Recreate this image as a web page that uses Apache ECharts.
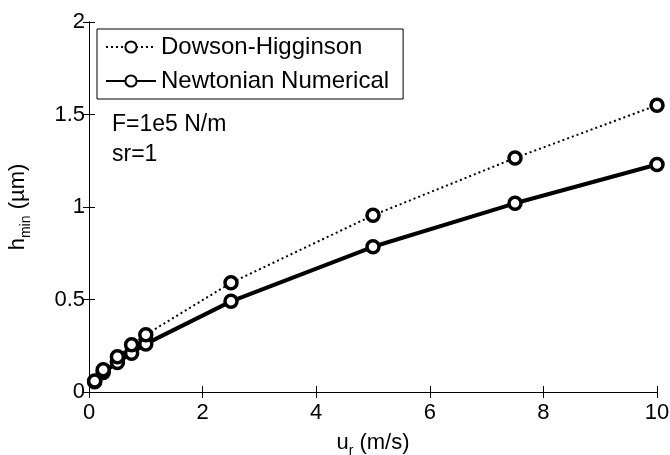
<!DOCTYPE html>
<html>
<head>
<meta charset="utf-8">
<script src="https://cdn.jsdelivr.net/npm/echarts@6/dist/echarts.min.js"></script>
<style>
  html, body { margin: 0; padding: 0; background: #fff; }
  #chart { width: 670px; height: 455px; }
</style>
</head>
<body>
<div id="chart"></div>
<script>
// Rolling speed (m/s)
const speeds = [0.1, 0.25, 0.5, 0.75, 1, 2.5, 5, 7.5, 10];
// Minimum film thickness (µm)
const dowsonHigginson = [0.06, 0.12, 0.19, 0.255, 0.31, 0.59, 0.955, 1.265, 1.55];
const newtonianNumerical = [0.055, 0.105, 0.16, 0.21, 0.26, 0.49, 0.785, 1.02, 1.23];

const seriesNames = ['Dowson-Higginson', 'Newtonian Numerical'];
const xTicks = [0, 2, 4, 6, 8, 10];
const yTicks = [0, 0.5, 1, 1.5, 2];

const font = 'Liberation Sans, Arial, Helvetica, sans-serif';

const pairs = (xs, ys) => xs.map((x, i) => [x, ys[i]]);

const chart = echarts.init(document.getElementById('chart'), null, { renderer: 'canvas' });

const frameAxis = {
  axisLine: { show: true, lineStyle: { color: '#000', width: 1 } },
  axisTick: { show: true, inside: true, length: 6, lineStyle: { color: '#000' } },
  splitLine: { show: false }
};

const subStyle = { fontSize: 14, padding: [16, 0, 0, 0], fontFamily: font, color: '#000' };

chart.setOption({
  animation: false,
  backgroundColor: '#fff',
  textStyle: { fontFamily: font, color: '#000' },
  grid: { left: 89, right: 13, top: 22, bottom: 63, containLabel: false, outerBoundsMode: 'none' },
  legend: {
    data: seriesNames,
    orient: 'vertical',
    left: 97,
    top: 29,
    itemWidth: 50,
    itemHeight: 14,
    itemGap: 10,
    padding: [6, 14, 6, 8],
    borderColor: '#000',
    borderWidth: 1,
    backgroundColor: '#fff',
    textStyle: { fontSize: 24, color: '#000', fontFamily: font }
  },
  xAxis: [
    Object.assign({
      type: 'value', min: xTicks[0], max: xTicks[xTicks.length - 1], interval: 2,
      position: 'bottom',
      name: 'u{sub|r} (m/s)',
      nameLocation: 'middle',
      nameGap: 36,
      nameTextStyle: { fontSize: 22, color: '#000', fontFamily: font, rich: { sub: subStyle } },
      axisLabel: { fontSize: 22, color: '#000', margin: 10, fontFamily: font }
    }, frameAxis),
    Object.assign({
      type: 'value', min: 0, max: 10, interval: 2, position: 'top',
      axisLabel: { show: false }
    }, frameAxis)
  ],
  yAxis: [
    Object.assign({
      type: 'value', min: yTicks[0], max: yTicks[yTicks.length - 1], interval: 0.5,
      position: 'left',
      name: 'h{sub|min} (µm)',
      nameLocation: 'middle',
      nameGap: 56,
      nameRotate: 90,
      nameTextStyle: { fontSize: 22, color: '#000', fontFamily: font, rich: { sub: subStyle } },
      axisLabel: { fontSize: 22, color: '#000', margin: 4, fontFamily: font }
    }, frameAxis),
    Object.assign({
      type: 'value', min: 0, max: 2, interval: 0.5, position: 'right',
      axisLabel: { show: false }
    }, frameAxis)
  ],
  graphic: [
    {
      type: 'text', left: 112, top: 113,
      style: { text: 'F=1e5 N/m', font: '23px ' + font, fill: '#000' }
    },
    {
      type: 'text', left: 112, top: 143,
      style: { text: 'sr=1', font: '23px ' + font, fill: '#000' }
    }
  ],
  series: [
    {
      name: seriesNames[0],
      type: 'line',
      data: pairs(speeds, dowsonHigginson),
      symbol: 'circle',
      symbolSize: 12,
      itemStyle: { color: '#fff', borderColor: '#000', borderWidth: 3.5 },
      lineStyle: { color: '#000', width: 2, type: [2, 3] },
      z: 3
    },
    {
      name: seriesNames[1],
      type: 'line',
      data: pairs(speeds, newtonianNumerical),
      symbol: 'circle',
      symbolSize: 12,
      itemStyle: { color: '#fff', borderColor: '#000', borderWidth: 3.5 },
      lineStyle: { color: '#000', width: 4 },
      z: 2
    }
  ]
});
</script>
</body>
</html>
